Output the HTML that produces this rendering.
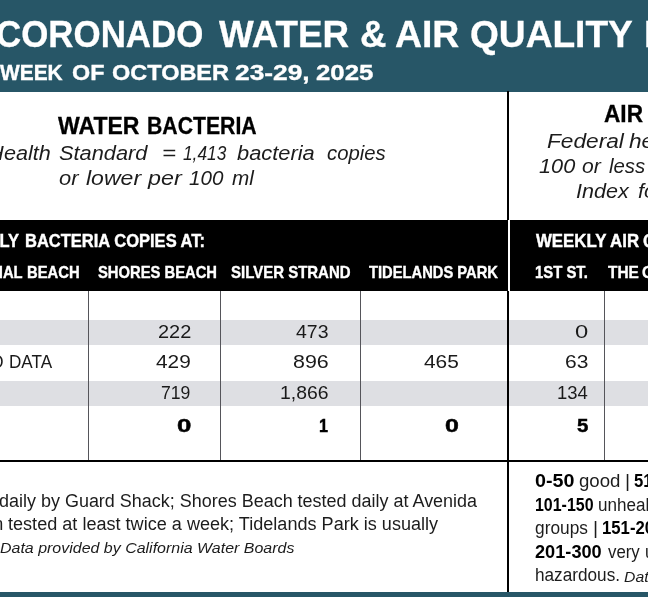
<!DOCTYPE html>
<html lang="en"><head><meta charset="utf-8"><title>Coronado Water &amp; Air Quality Report</title>
<style>
html,body{margin:0;padding:0}
body{width:648px;height:597px;overflow:hidden;position:relative;background:#fff;font-family:"Liberation Sans",sans-serif}
.r{position:absolute}
.l{position:absolute;left:0;top:0;margin:0}
.l span{position:absolute;white-space:pre;line-height:1;transform-origin:0 0}
</style></head>
<body>
<div class="r" style="left:0;top:0;width:648px;height:91.5px;background:#275667"></div>
<div class="r" style="left:0;top:592px;width:648px;height:5px;background:#275667"></div>
<div class="r" style="left:0;top:319.75px;width:648px;height:25px;background:#dedfe3"></div>
<div class="r" style="left:0;top:381px;width:648px;height:24.5px;background:#dedfe3"></div>
<div class="r" style="left:87.80px;top:290px;width:1.3px;height:170px;background:#55555a"></div>
<div class="r" style="left:220.10px;top:290px;width:1.3px;height:170px;background:#55555a"></div>
<div class="r" style="left:360.15px;top:290px;width:1.3px;height:170px;background:#55555a"></div>
<div class="r" style="left:604.10px;top:290px;width:1.3px;height:170px;background:#55555a"></div>
<div class="r" style="left:0;top:219.5px;width:648px;height:71px;background:#000"></div>
<div class="r" style="left:507.3px;top:91px;width:2.2px;height:501px;background:#000"></div>
<div class="r" style="left:508px;top:219.5px;width:1.6px;height:71px;background:#fff"></div>
<div class="r" style="left:0;top:459.5px;width:648px;height:2.25px;background:#000"></div>
<div class="l" style="font-size:36.3px;color:#fff;font-weight:700;-webkit-text-stroke:0.3px #fff;"><span style="left:-3.93px;top:16.67px;transform:scaleX(0.9610)">CORONADO</span> <span style="left:219.46px;top:16.67px;transform:scaleX(1.0134)">WATER</span> <span style="left:360.03px;top:16.67px;transform:scaleX(1.0076)">&amp;</span> <span style="left:395.40px;top:16.67px;transform:scaleX(1.0294)">AIR</span> <span style="left:469.98px;top:16.67px;transform:scaleX(1.0222)">QUALITY</span> <span style="left:643.57px;top:16.67px;transform:scaleX(1.0134)">REPORT</span></div>
<div class="l" style="font-size:22px;color:#fff;font-weight:700;-webkit-text-stroke:0.35px #fff;"><span style="left:0.48px;top:61.78px;transform:scaleX(0.9501)">WEEK</span> <span style="left:71.74px;top:61.78px;transform:scaleX(1.0601)">OF</span> <span style="left:111.74px;top:61.78px;transform:scaleX(1.0673)">OCTOBER</span> <span style="left:234.85px;top:61.78px;transform:scaleX(1.1966)">23-29,</span> <span style="left:316.12px;top:61.78px;transform:scaleX(1.1716)">2025</span></div>
<div class="l" style="font-size:23px;color:#000;font-weight:700;-webkit-text-stroke:0.3px #000;"><span style="left:58.28px;top:114.73px;transform:scaleX(1.0019)">WATER</span> <span style="left:146.90px;top:114.73px;transform:scaleX(0.9229)">BACTERIA</span></div>
<div class="l" style="font-size:20px;color:#1c1c1c;font-style:italic;"><span style="left:-12.48px;top:143.47px;transform:scaleX(1.0895)">H</span><span style="left:4.09px;top:143.47px;transform:scaleX(1.0813)">ealth</span> <span style="left:58.99px;top:143.47px;transform:scaleX(1.0895)">Standard</span> <span style="left:162.09px;top:143.47px;transform:scaleX(1.2012)">=</span> <span style="left:182.87px;top:143.47px;transform:scaleX(0.8647)">1,413</span> <span style="left:237.39px;top:143.47px;transform:scaleX(1.0915)">bacteria</span> <span style="left:327.05px;top:143.47px;transform:scaleX(1.0144)">copies</span></div>
<div class="l" style="font-size:20px;color:#1c1c1c;font-style:italic;"><span style="left:58.50px;top:168.07px;transform:scaleX(1.0943)">or</span> <span style="left:85.93px;top:168.07px;transform:scaleX(1.1524)">lower</span> <span style="left:147.78px;top:168.07px;transform:scaleX(1.1636)">per</span> <span style="left:189.08px;top:168.07px;transform:scaleX(1.0306)">100</span> <span style="left:231.67px;top:168.07px;transform:scaleX(1.0358)">ml</span></div>
<div class="l" style="font-size:23px;color:#000;font-weight:700;-webkit-text-stroke:0.3px #000;"><span style="left:604.46px;top:102.73px;transform:scaleX(0.9846)">AIR</span> <span style="left:651.07px;top:102.73px;transform:scaleX(0.9846)">QUALITY</span></div>
<div class="l" style="font-size:20px;color:#1c1c1c;font-style:italic;"><span style="left:546.62px;top:130.57px;transform:scaleX(1.1336)">Federal</span> <span style="left:629.14px;top:130.57px;transform:scaleX(1.1336)">health</span></div>
<div class="l" style="font-size:20px;color:#1c1c1c;font-style:italic;"><span style="left:538.96px;top:155.77px;transform:scaleX(1.0856)">100</span> <span style="left:582.32px;top:155.77px;transform:scaleX(1.0550)">or</span> <span style="left:609.17px;top:155.77px;transform:scaleX(1.0189)">less</span> <span style="left:652.32px;top:155.77px;transform:scaleX(1.0550)">on</span></div>
<div class="l" style="font-size:20px;color:#1c1c1c;font-style:italic;"><span style="left:576.16px;top:181.07px;transform:scaleX(1.0771)">Index</span> <span style="left:637.69px;top:181.07px;transform:scaleX(1.0771)">for</span></div>
<div class="l" style="font-size:17.5px;color:#fff;font-weight:700;-webkit-text-stroke:0.4px #fff;"><span style="left:-49.84px;top:233.39px;transform:scaleX(0.9433)">WEEKLY</span> <span style="left:24.91px;top:233.39px;transform:scaleX(0.9433)">BACTERIA COPIES AT:</span></div>
<div class="l" style="font-size:17.5px;color:#fff;font-weight:700;-webkit-text-stroke:0.4px #fff;"><span style="left:535.98px;top:233.39px;transform:scaleX(0.9605)">WEEKLY AIR</span> <span style="left:642.81px;top:233.39px;transform:scaleX(0.9605)">QUALITY</span></div>
<div class="l" style="font-size:17px;color:#fff;font-weight:700;-webkit-text-stroke:0.4px #fff;"><span style="left:-47.59px;top:264.41px;transform:scaleX(0.8696)">IMPERIAL</span> <span style="left:26.82px;top:264.41px;transform:scaleX(0.8696)">BEACH</span></div>
<div class="l" style="font-size:17px;color:#fff;font-weight:700;-webkit-text-stroke:0.4px #fff;"><span style="left:97.99px;top:264.41px;transform:scaleX(0.8688)">SHORES BEACH</span></div>
<div class="l" style="font-size:17px;color:#fff;font-weight:700;-webkit-text-stroke:0.4px #fff;"><span style="left:230.58px;top:264.41px;transform:scaleX(0.8809)">SILVER STRAND</span></div>
<div class="l" style="font-size:17px;color:#fff;font-weight:700;-webkit-text-stroke:0.4px #fff;"><span style="left:369.14px;top:264.41px;transform:scaleX(0.8663)">TIDELANDS PARK</span></div>
<div class="l" style="font-size:17px;color:#fff;font-weight:700;-webkit-text-stroke:0.4px #fff;"><span style="left:535.08px;top:264.41px;transform:scaleX(0.8757)">1ST ST.</span></div>
<div class="l" style="font-size:17px;color:#fff;font-weight:700;-webkit-text-stroke:0.4px #fff;"><span style="left:607.83px;top:264.41px;transform:scaleX(0.9050)">THE</span> <span style="left:642.37px;top:264.41px;transform:scaleX(0.9050)">CAYS</span></div>
<div class="l" style="font-size:18.6px;color:#1a1a1a;"><span style="left:157.70px;top:322.96px;transform:scaleX(1.0732)">222</span></div>
<div class="l" style="font-size:18.6px;color:#1a1a1a;"><span style="left:296.27px;top:322.96px;transform:scaleX(1.0464)">473</span></div>
<div class="l" style="font-size:18.6px;color:#1a1a1a;"><span style="left:575.07px;top:322.96px;transform:scaleX(1.2795)">0</span></div>
<div class="l" style="font-size:18.6px;color:#1a1a1a;"><span style="left:156.24px;top:353.46px;transform:scaleX(1.1197)">429</span></div>
<div class="l" style="font-size:18.6px;color:#1a1a1a;"><span style="left:293.08px;top:353.46px;transform:scaleX(1.1521)">896</span></div>
<div class="l" style="font-size:18.6px;color:#1a1a1a;"><span style="left:423.54px;top:353.46px;transform:scaleX(1.1222)">465</span></div>
<div class="l" style="font-size:18.6px;color:#1a1a1a;"><span style="left:564.95px;top:353.46px;transform:scaleX(1.1291)">63</span></div>
<div class="l" style="font-size:18.6px;color:#1a1a1a;"><span style="left:161.40px;top:383.86px;transform:scaleX(0.9486)">719</span></div>
<div class="l" style="font-size:18.6px;color:#1a1a1a;"><span style="left:280.23px;top:383.86px;transform:scaleX(1.0423)">1,866</span></div>
<div class="l" style="font-size:18.6px;color:#1a1a1a;"><span style="left:557.09px;top:383.86px;transform:scaleX(0.9941)">134</span></div>
<div class="l" style="font-size:18.6px;color:#000;font-weight:700;-webkit-text-stroke:0.45px #000;"><span style="left:176.69px;top:417.06px;transform:scaleX(1.3864)">0</span></div>
<div class="l" style="font-size:18.6px;color:#000;font-weight:700;-webkit-text-stroke:0.45px #000;"><span style="left:319.19px;top:417.06px;transform:scaleX(0.8750)">1</span></div>
<div class="l" style="font-size:18.6px;color:#000;font-weight:700;-webkit-text-stroke:0.45px #000;"><span style="left:444.73px;top:417.06px;transform:scaleX(1.3413)">0</span></div>
<div class="l" style="font-size:18.6px;color:#000;font-weight:700;-webkit-text-stroke:0.45px #000;"><span style="left:576.59px;top:417.06px;transform:scaleX(1.0990)">5</span></div>
<div class="l" style="font-size:18.6px;color:#1a1a1a;"><span style="left:-21.57px;top:353.26px;transform:scaleX(0.9207)">NO</span> <span style="left:8.60px;top:353.26px;transform:scaleX(0.9207)">DATA</span></div>
<div class="l" style="font-size:17.6px;color:#1c1c1c;"><span style="left:-53.81px;top:493.40px;transform:scaleX(1.0212)">tested</span> <span style="left:-0.75px;top:493.40px;transform:scaleX(1.0212)">daily by Guard Shack; Shores Beach tested daily at Avenida</span></div>
<div class="l" style="font-size:17.6px;color:#1c1c1c;"><span style="left:-45.61px;top:515.70px;transform:scaleX(1.0277)">ocean</span> <span style="left:7.73px;top:515.70px;transform:scaleX(1.0277)">tested at least twice a week; Tidelands Park is usually</span></div>
<div class="l" style="font-size:14.6px;color:#1c1c1c;font-style:italic;"><span style="left:0.32px;top:540.84px;transform:scaleX(1.0942)">Data provided by California Water Boards</span></div>
<div class="l" style="font-size:17.6px;color:#000;font-weight:700;"><span style="left:535.23px;top:472.80px;transform:scaleX(1.1204)">0-50</span></div>
<div class="l" style="font-size:17.6px;color:#1c1c1c;"><span style="left:579.02px;top:472.80px;transform:scaleX(1.0596)">good</span> <span style="left:624.66px;top:472.80px;transform:scaleX(1.1086)">|</span></div>
<div class="l" style="font-size:17.6px;color:#000;font-weight:700;"><span style="left:634.00px;top:472.80px;transform:scaleX(0.9500)">51-100</span></div>
<div class="l" style="font-size:17.6px;color:#000;font-weight:700;"><span style="left:535.01px;top:496.50px;transform:scaleX(0.9061)">101-150</span></div>
<div class="l" style="font-size:17.6px;color:#1c1c1c;"><span style="left:598.21px;top:496.50px;transform:scaleX(0.9700)">unhealthy</span></div>
<div class="l" style="font-size:17.6px;color:#1c1c1c;"><span style="left:535.27px;top:520.30px;transform:scaleX(0.9838)">groups</span> <span style="left:593.46px;top:520.30px;transform:scaleX(1.1086)">|</span></div>
<div class="l" style="font-size:17.6px;color:#000;font-weight:700;"><span style="left:601.96px;top:520.30px;transform:scaleX(0.9500)">151-200</span></div>
<div class="l" style="font-size:17.6px;color:#000;font-weight:700;"><span style="left:535.38px;top:544.00px;transform:scaleX(1.0333)">201-300</span></div>
<div class="l" style="font-size:17.6px;color:#1c1c1c;"><span style="left:607.65px;top:544.00px;transform:scaleX(0.9560)">very</span> <span style="left:644.62px;top:544.00px;transform:scaleX(0.9560)">unhealthy</span></div>
<div class="l" style="font-size:17.6px;color:#1c1c1c;"><span style="left:534.81px;top:567.40px;transform:scaleX(0.9766)">hazardous.</span></div>
<div class="l" style="font-size:14.6px;color:#1c1c1c;font-style:italic;"><span style="left:624.13px;top:569.94px;transform:scaleX(1.0800)">Data</span></div>
</body></html>
